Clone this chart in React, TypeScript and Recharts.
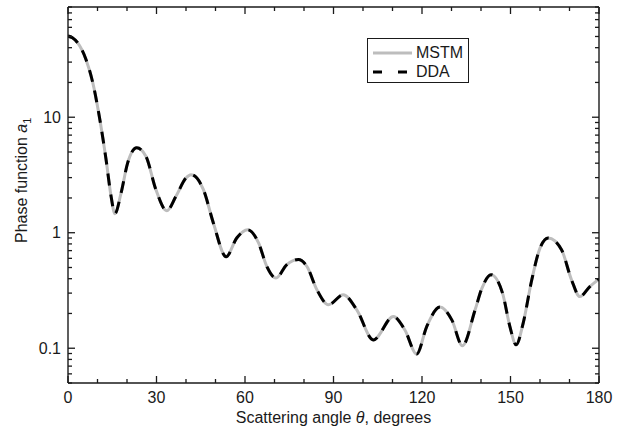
import { Label, Legend, Line, LineChart, XAxis, YAxis } from 'recharts'

const angles = [
  0, 1.5, 3.3, 6.1, 8.4, 10.6, 12.9, 14.6, 15.9, 18, 20.2, 23.3, 26.4, 29.8, 33.5, 36.6, 40, 41.7, 45.9,
  49.3, 53.6, 57.2, 60.9, 64.6, 67.4, 70.5, 74.1, 78.1, 81, 84.4, 88.3, 93.3, 97.9, 103.5, 110.3, 114.2,
  118.2, 121.6, 126.1, 130.1, 133.7, 138, 140.3, 143.4, 147.3, 149.8, 151.9, 154.3, 157.2, 160, 162.8,
  167.3, 170.7, 173.5, 176.9, 180,
]

const mstm = [
  50.4, 48.8, 44, 31.6, 19.9, 10.2, 4.3, 2.07, 1.46, 2.21, 4.0, 5.43, 4.6, 2.36, 1.55, 2.07, 2.98, 3.18, 2.36,
  1.21, 0.62, 0.9, 1.06, 0.815, 0.51, 0.405, 0.527, 0.585, 0.51, 0.32, 0.238, 0.29, 0.215, 0.118, 0.188, 0.144,
  0.089, 0.154, 0.227, 0.176, 0.105, 0.215, 0.33, 0.433, 0.3, 0.154, 0.107, 0.165, 0.39, 0.736, 0.9,
  0.713, 0.39, 0.28, 0.342, 0.396,
]

const dda = [
  50.4, 48.8, 44, 31.6, 19.9, 10.2, 4.3, 2.07, 1.46, 2.21, 4.0, 5.43, 4.6, 2.36, 1.55, 2.07, 2.98, 3.18, 2.36,
  1.21, 0.62, 0.9, 1.06, 0.815, 0.51, 0.405, 0.527, 0.585, 0.51, 0.32, 0.238, 0.29, 0.215, 0.118, 0.188, 0.144,
  0.089, 0.154, 0.227, 0.176, 0.105, 0.215, 0.33, 0.433, 0.3, 0.154, 0.107, 0.165, 0.39, 0.736, 0.9,
  0.713, 0.39, 0.28, 0.342, 0.396,
]

const xTicks = [0, 10, 20, 30, 40, 50, 60, 70, 80, 90, 100, 110, 120, 130, 140, 150, 160, 170, 180]
const xLabels = [0, 30, 60, 90, 120, 150, 180]
const yTicks = [
  0.05, 0.06, 0.07, 0.08, 0.09, 0.1, 0.2, 0.3, 0.4, 0.5, 0.6, 0.7, 0.8, 0.9, 1, 2, 3, 4, 5, 6, 7, 8, 9, 10,
  20, 30, 40, 50, 60, 70, 80, 90,
]
const yLabels = ['0.1', '1', '10']

const data = angles.map((a, i) => ({ angle: a, mstm: mstm[i], dda: dda[i] }))

const FONT = '"Liberation Sans", Arial, sans-serif'
const INK = '#1a1a1a'
const GRAY = '#bdbdbd'
const MAJOR = 7
const MINOR = 4

const isMajorY = (v: number) => yLabels.includes(String(v))

function BottomTick({ x, y, payload }: any) {
  const major = xLabels.includes(payload.value)
  return (
    <g>
      <path d={`M${x},${y}V${y - (major ? MAJOR : MINOR)}`} stroke={INK} strokeWidth={1.3} />
      {major && (
        <text x={x} y={y + 19.5} textAnchor="middle" fontSize={16} fontFamily={FONT} fill={INK}>
          {payload.value}
        </text>
      )}
    </g>
  )
}

function TopTick({ x, y, payload }: any) {
  const major = xLabels.includes(payload.value)
  return <path d={`M${x},${y}V${y + (major ? MAJOR : MINOR)}`} stroke={INK} strokeWidth={1.3} />
}

function LeftTick({ x, y, payload }: any) {
  const major = isMajorY(payload.value)
  return (
    <g>
      <path d={`M${x},${y}H${x + (major ? MAJOR : MINOR)}`} stroke={INK} strokeWidth={1.3} />
      {major && (
        <text x={x - 7} y={y + 5.7} textAnchor="end" fontSize={16} fontFamily={FONT} fill={INK}>
          {String(payload.value)}
        </text>
      )}
    </g>
  )
}

function RightTick({ x, y, payload }: any) {
  const major = isMajorY(payload.value)
  return <path d={`M${x},${y}H${x - (major ? MAJOR : MINOR)}`} stroke={INK} strokeWidth={1.3} />
}

function LegendBox() {
  const rows = [
    { name: 'MSTM', color: GRAY, dash: undefined },
    { name: 'DDA', color: '#000', dash: '9 16' },
  ]
  return (
    <div
      style={{
        width: 102,
        height: 45,
        border: `1px solid ${INK}`,
        background: '#fff',
        fontFamily: FONT,
        fontSize: 16,
        color: INK,
        paddingTop: 4,
        boxSizing: 'border-box',
      }}
    >
      {rows.map((r) => (
        <div key={r.name} style={{ display: 'flex', alignItems: 'center', height: 19, lineHeight: '19px' }}>
          <svg width={48} height={19}>
            <line x1={5} x2={44} y1={10} y2={10} stroke={r.color} strokeWidth={3} strokeDasharray={r.dash} />
          </svg>
          <span>{r.name}</span>
        </div>
      ))}
    </div>
  )
}

function XTitle({ viewBox }: any) {
  return (
    <text
      x={viewBox.x + viewBox.width / 2}
      y={viewBox.y + 40}
      textAnchor="middle"
      fontSize={16}
      fontFamily={FONT}
      fill={INK}
    >
      Scattering angle <tspan fontStyle="italic">θ</tspan>, degrees
    </text>
  )
}

function YTitle({ viewBox }: any) {
  const x = viewBox.x + 27
  const y = viewBox.y + 236
  return (
    <text x={x} y={y} transform={`rotate(-90 ${x} ${y})`} fontSize={16} fontFamily={FONT} fill={INK}>
      Phase function <tspan fontStyle="italic">a</tspan>
      <tspan fontSize={11} dy={4}>1</tspan>
    </text>
  )
}

export default function App() {
  return (
    <div style={{ position: 'absolute', left: 0, top: 0 }}>
      <LineChart width={633} height={428} data={data} margin={{ top: 6, right: 33, bottom: 0, left: 0 }}>
        <XAxis
          xAxisId="b"
          dataKey="angle"
          type="number"
          domain={[0, 180]}
          allowDataOverflow
          ticks={xTicks}
          interval={0}
          height={45}
          tickSize={0}
          tickMargin={0}
          tickLine={false}
          axisLine={{ stroke: INK, strokeWidth: 1.4 }}
          tick={<BottomTick />}
        >
          <Label content={<XTitle />} />
        </XAxis>
        <XAxis
          xAxisId="t"
          orientation="top"
          dataKey="angle"
          type="number"
          domain={[0, 180]}
          allowDataOverflow
          ticks={xTicks}
          interval={0}
          height={1}
          tickSize={0}
          tickMargin={0}
          tickLine={false}
          axisLine={{ stroke: INK, strokeWidth: 1.4 }}
          tick={<TopTick />}
        />
        <YAxis
          yAxisId="l"
          type="number"
          scale="log"
          domain={[0.05, 90]}
          allowDataOverflow
          ticks={yTicks}
          interval={0}
          width={68}
          tickSize={0}
          tickMargin={0}
          tickLine={false}
          axisLine={{ stroke: INK, strokeWidth: 1.4 }}
          tick={<LeftTick />}
        >
          <Label content={<YTitle />} />
        </YAxis>
        <YAxis
          yAxisId="r"
          orientation="right"
          type="number"
          scale="log"
          domain={[0.05, 90]}
          allowDataOverflow
          ticks={yTicks}
          interval={0}
          width={1}
          tickSize={0}
          tickMargin={0}
          tickLine={false}
          axisLine={{ stroke: INK, strokeWidth: 1.4 }}
          tick={<RightTick />}
        />
        <Legend
          layout="vertical"
          align="center"
          verticalAlign="middle"
          content={<LegendBox />}
          wrapperStyle={{ left: 367, top: 38, width: 104, height: 47 }}
        />
        <Line
          xAxisId="b"
          yAxisId="l"
          dataKey="mstm"
          name="MSTM"
          type="monotone"
          stroke={GRAY}
          strokeWidth={3}
          dot={false}
          isAnimationActive={false}
        />
        <Line
          xAxisId="b"
          yAxisId="l"
          dataKey="dda"
          name="DDA"
          type="monotone"
          stroke="#000"
          strokeWidth={3}
          strokeDasharray="12 9"
          dot={false}
          isAnimationActive={false}
        />
      </LineChart>
    </div>
  )
}
